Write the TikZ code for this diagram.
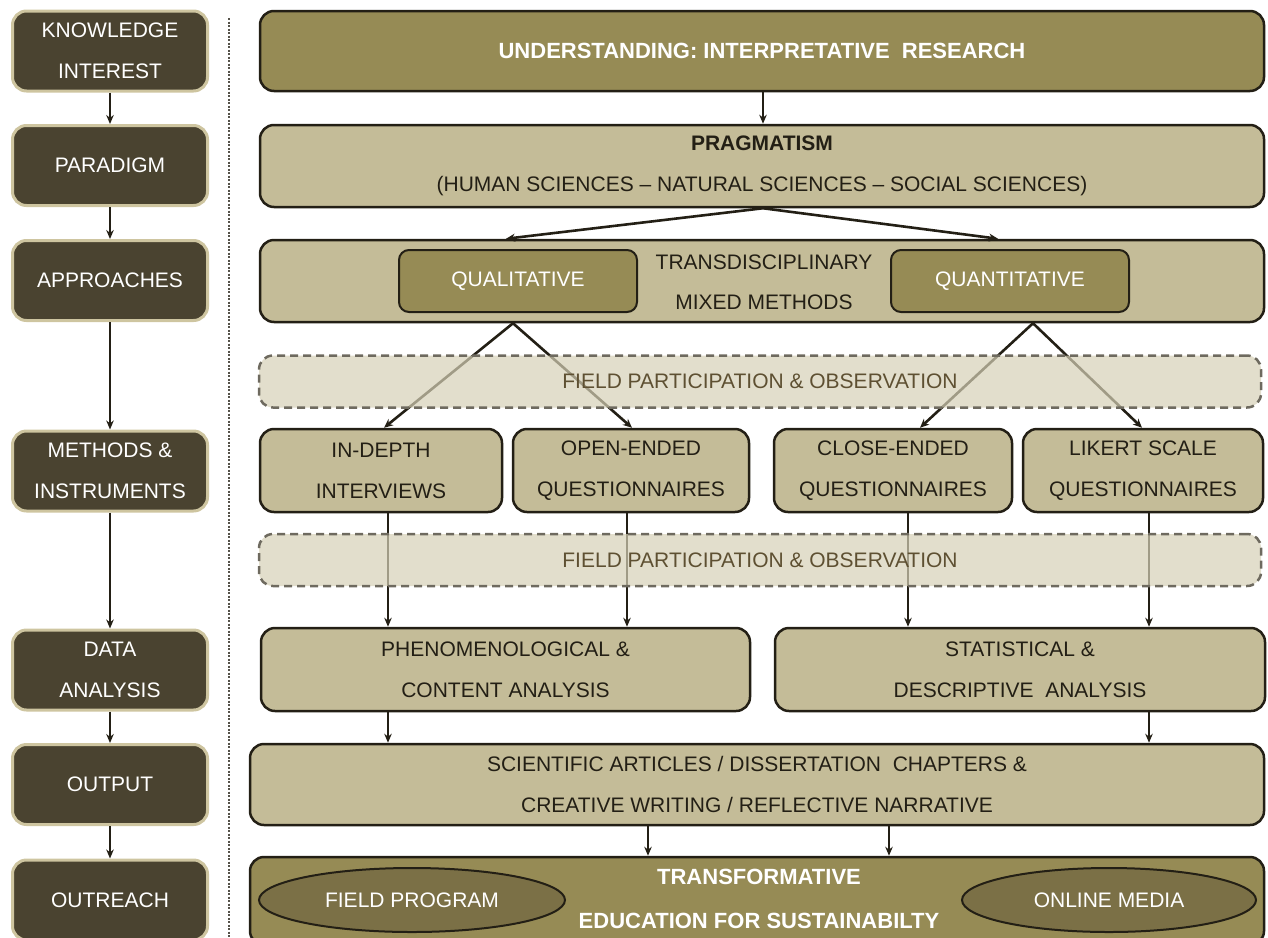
\documentclass[tikz,border=0pt]{standalone}
\usepackage{fontspec}
\setmainfont{Liberation Sans}
\usetikzlibrary{arrows.meta,shapes.geometric}
\definecolor{darkbox}{HTML}{4A4330}
\definecolor{lightrim}{HTML}{CEC5A0}
\definecolor{olive}{HTML}{968B55}
\definecolor{sand}{HTML}{C4BC98}
\definecolor{ink}{HTML}{231F15}
\definecolor{haze}{HTML}{D6D0B6}
\definecolor{dashgray}{HTML}{6E6A5F}
\definecolor{fieldtext}{HTML}{5E5032}
\definecolor{ovalfill}{HTML}{7B7046}
\definecolor{sepgray}{HTML}{55524A}

\begin{document}
\begin{tikzpicture}[x=1pt,y=-1pt,
  base/.style={rounded corners=14pt, inner sep=0pt, align=center,
    font=\fontsize{21}{41}\selectfont},
  stage/.style={base, fill=darkbox, draw=lightrim, line width=3pt, text=white,
    minimum width=195pt, minimum height=80pt},
  darkmain/.style={base, fill=olive, draw=ink, line width=2.5pt, text=white,
    font=\bfseries\fontsize{22}{44}\selectfont},
  lightmain/.style={base, fill=sand, draw=ink, line width=2.5pt, text=ink},
  inner/.style={base, fill=olive, draw=ink, line width=2pt, text=white,
    rounded corners=10pt, minimum width=238pt, minimum height=62pt},
  fieldband/.style={base, fill=haze, fill opacity=0.7, text opacity=1,
    draw=dashgray, dash pattern=on 8pt off 5pt, line width=2.5pt,
    text=fieldtext, minimum width=1002pt, minimum height=52pt},
  oval/.style={ellipse, inner sep=0pt, fill=ovalfill, draw=ink, line width=2pt,
    text=white, font=\fontsize{21}{41}\selectfont, minimum height=64pt},
  flow/.style={-{Stealth[length=9pt,width=7.5pt]}, line width=2pt, draw=ink},
  fork/.style={-{Stealth[length=9pt,width=8pt]}, line width=2.6pt, draw=ink},
]
\useasboundingbox (0,0) rectangle (1268,937);
\clip (0,0) rectangle (1268,937);

% ---- left column: stages of the research design ----
\node[stage] (kn)  at (110,51)    {KNOWLEDGE\\INTEREST};
\node[stage] (par) at (110,165.5) {PARADIGM};
\node[stage] (apr) at (110,280.5) {APPROACHES};
\node[stage] (met) at (110,471)   {METHODS \&\\INSTRUMENTS};
\node[stage] (dat) at (110,670)   {DATA\\ANALYSIS};
\node[stage] (out) at (110,784.5) {OUTPUT};
\node[stage] (rea) at (110,900)   {OUTREACH};

\foreach \a/\b in {kn/par, par/apr, apr/met, met/dat, dat/out, out/rea}
  \draw[flow] (\a.south) -- (\b.north);

% separator between the stage column and the design
\coordinate (sepTop) at (229,18);
\coordinate (sepBot) at (229,940);
\draw[sepgray, line width=1.1pt, dash pattern=on 2pt off 1.5pt] (sepTop) -- (sepBot);

% ---- right column: the design itself ----
\node[darkmain, minimum width=1004pt, minimum height=80pt] (und) at (762,51)
  {UNDERSTANDING: INTERPRETATIVE\ \ RESEARCH};

\node[lightmain, minimum width=1004pt, minimum height=82pt] (prag) at (762,166)
  {\textbf{PRAGMATISM}\\(HUMAN SCIENCES -- NATURAL SCIENCES -- SOCIAL SCIENCES)};

\node[lightmain, minimum width=1004pt, minimum height=82pt] (appr) at (762,281) {};
\node[base, text=ink, font=\fontsize{21}{40}\selectfont] (mixed) at (764,282)
  {TRANSDISCIPLINARY\\MIXED METHODS};
\node[inner] (qual)  at (518,281)  {QUALITATIVE};
\node[inner] (quant) at (1010,281) {QUANTITATIVE};

\node[lightmain, minimum width=242pt, minimum height=83pt] (indepth) at (381,470.5)
  {IN-DEPTH\\INTERVIEWS};
\node[lightmain, minimum width=236pt, minimum height=83pt] (open) at (631,470.5)
  {OPEN-ENDED\\QUESTIONNAIRES};
\node[lightmain, minimum width=238pt, minimum height=83pt] (close) at (893,470.5)
  {CLOSE-ENDED\\QUESTIONNAIRES};
\node[lightmain, minimum width=240pt, minimum height=83pt] (likert) at (1143,470.5)
  {LIKERT SCALE\\QUESTIONNAIRES};

\node[lightmain, minimum width=489pt, minimum height=83pt] (phen) at (505.5,669.5)
  {PHENOMENOLOGICAL \&\\CONTENT ANALYSIS};
\node[lightmain, minimum width=490pt, minimum height=83pt] (stat) at (1020,669.5)
  {STATISTICAL \&\\DESCRIPTIVE\ \ ANALYSIS};

\node[lightmain, minimum width=1014pt, minimum height=81pt] (outp) at (757,784.5)
  {SCIENTIFIC ARTICLES / DISSERTATION\ \ CHAPTERS \&\\CREATIVE WRITING / REFLECTIVE NARRATIVE};

\node[darkmain, minimum width=1014pt, minimum height=88pt] (outr) at (757,901) {};
\node[oval, minimum width=306pt] (fprog) at (412,900) {FIELD PROGRAM};
\node[oval, minimum width=294pt] (omed)  at (1109,900) {ONLINE MEDIA};
\node[base, text=white, font=\bfseries\fontsize{22}{44}\selectfont] (tesd) at (759,899)
  {TRANSFORMATIVE\\EDUCATION FOR SUSTAINABILTY};

% ---- guide lines for the connectors ----
\coordinate (gC) at (763,0);
\coordinate (gD) at (506,0);
\coordinate (gE) at (998,0);
\coordinate (gA) at (513,0);
\coordinate (gB) at (1033,0);
\coordinate (gL1) at (384,0);
\coordinate (gL2) at (632,0);
\coordinate (gR1) at (920,0);
\coordinate (gR2) at (1142,0);
\coordinate (g1) at (388,0);
\coordinate (g2) at (627,0);
\coordinate (g3) at (908,0);
\coordinate (g4) at (1149,0);
\coordinate (g5) at (648,0);
\coordinate (g6) at (889,0);

\draw[flow] (und.south -| gC) -- (prag.north -| gC);
\draw[fork] (prag.south -| gC) -- (appr.north -| gD);
\draw[fork] (prag.south -| gC) -- (appr.north -| gE);

\draw[fork] (appr.south -| gA) -- (indepth.north -| gL1);
\draw[fork] (appr.south -| gA) -- (open.north -| gL2);
\draw[fork] (appr.south -| gB) -- (close.north -| gR1);
\draw[fork] (appr.south -| gB) -- (likert.north -| gR2);

\draw[flow, line width=2.2pt] (indepth.south -| g1) -- (phen.north -| g1);
\draw[flow, line width=2.2pt] (open.south -| g2)    -- (phen.north -| g2);
\draw[flow, line width=2.2pt] (close.south -| g3)   -- (stat.north -| g3);
\draw[flow, line width=2.2pt] (likert.south -| g4)  -- (stat.north -| g4);

\draw[flow] (phen.south -| g1) -- (outp.north -| g1);
\draw[flow] (stat.south -| g4) -- (outp.north -| g4);
\draw[flow] (outp.south -| g5) -- (outr.north -| g5);
\draw[flow] (outp.south -| g6) -- (outr.north -| g6);

% ---- translucent observation bands laid over the connectors ----
\node[fieldband] (field1) at (760,381.5) {FIELD PARTICIPATION \& OBSERVATION};
\node[fieldband] (field2) at (760,560)   {FIELD PARTICIPATION \& OBSERVATION};
\end{tikzpicture}
\end{document}
